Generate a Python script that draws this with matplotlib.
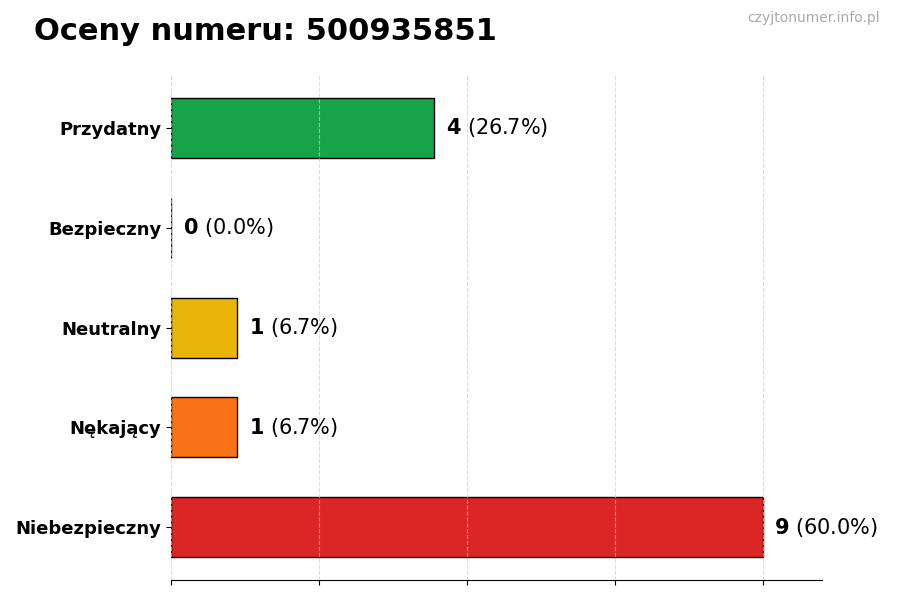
import matplotlib
matplotlib.use('Agg')
import matplotlib.pyplot as plt
import numpy as np

categories = ['Przydatny', 'Bezpieczny', 'Neutralny', 'Nękający', 'Niebezpieczny']
counts = [4, 0, 1, 1, 9]
colors = ['#16a34a', '#9ca3af', '#eab308', '#f97316', '#dc2626']

total = sum(counts)
max_val = max(counts)

fig = plt.figure(figsize=(9, 6), dpi=100)
ax = fig.add_axes([0.19, 0.033, 0.723, 0.842])

y = np.arange(len(categories))[::-1]
ax.barh(y, counts, height=0.6, color=colors, edgecolor='black', linewidth=1)

for yi, c in zip(y, counts):
    pct = c / total * 100
    ax.text(c + max_val * 0.02, yi, r'$\mathbf{%d}$ (%.1f%%)' % (c, pct),
            va='center', ha='left', fontsize=15)

ax.set_yticks(y)
ax.set_yticklabels(categories, fontsize=13, fontweight='bold')
ax.set_xlim(0, max_val * 1.1)
ax.set_xticks(np.linspace(0, max_val, 5))
ax.set_xticklabels([])
ax.grid(axis='x', linestyle='--', color='#cccccc', alpha=0.7, linewidth=0.8)
ax.set_axisbelow(False)
for s in ['top', 'right', 'left']:
    ax.spines[s].set_visible(False)

fig.text(0.038, 0.948, 'Oceny numeru: 500935851', fontsize=22, fontweight='bold',
         ha='left', va='center')
fig.text(0.978, 0.970, 'czyjtonumer.info.pl', fontsize=10, color='#aaaaaa',
         ha='right', va='center')

fig.savefig('out.png', dpi=100, facecolor='white')
